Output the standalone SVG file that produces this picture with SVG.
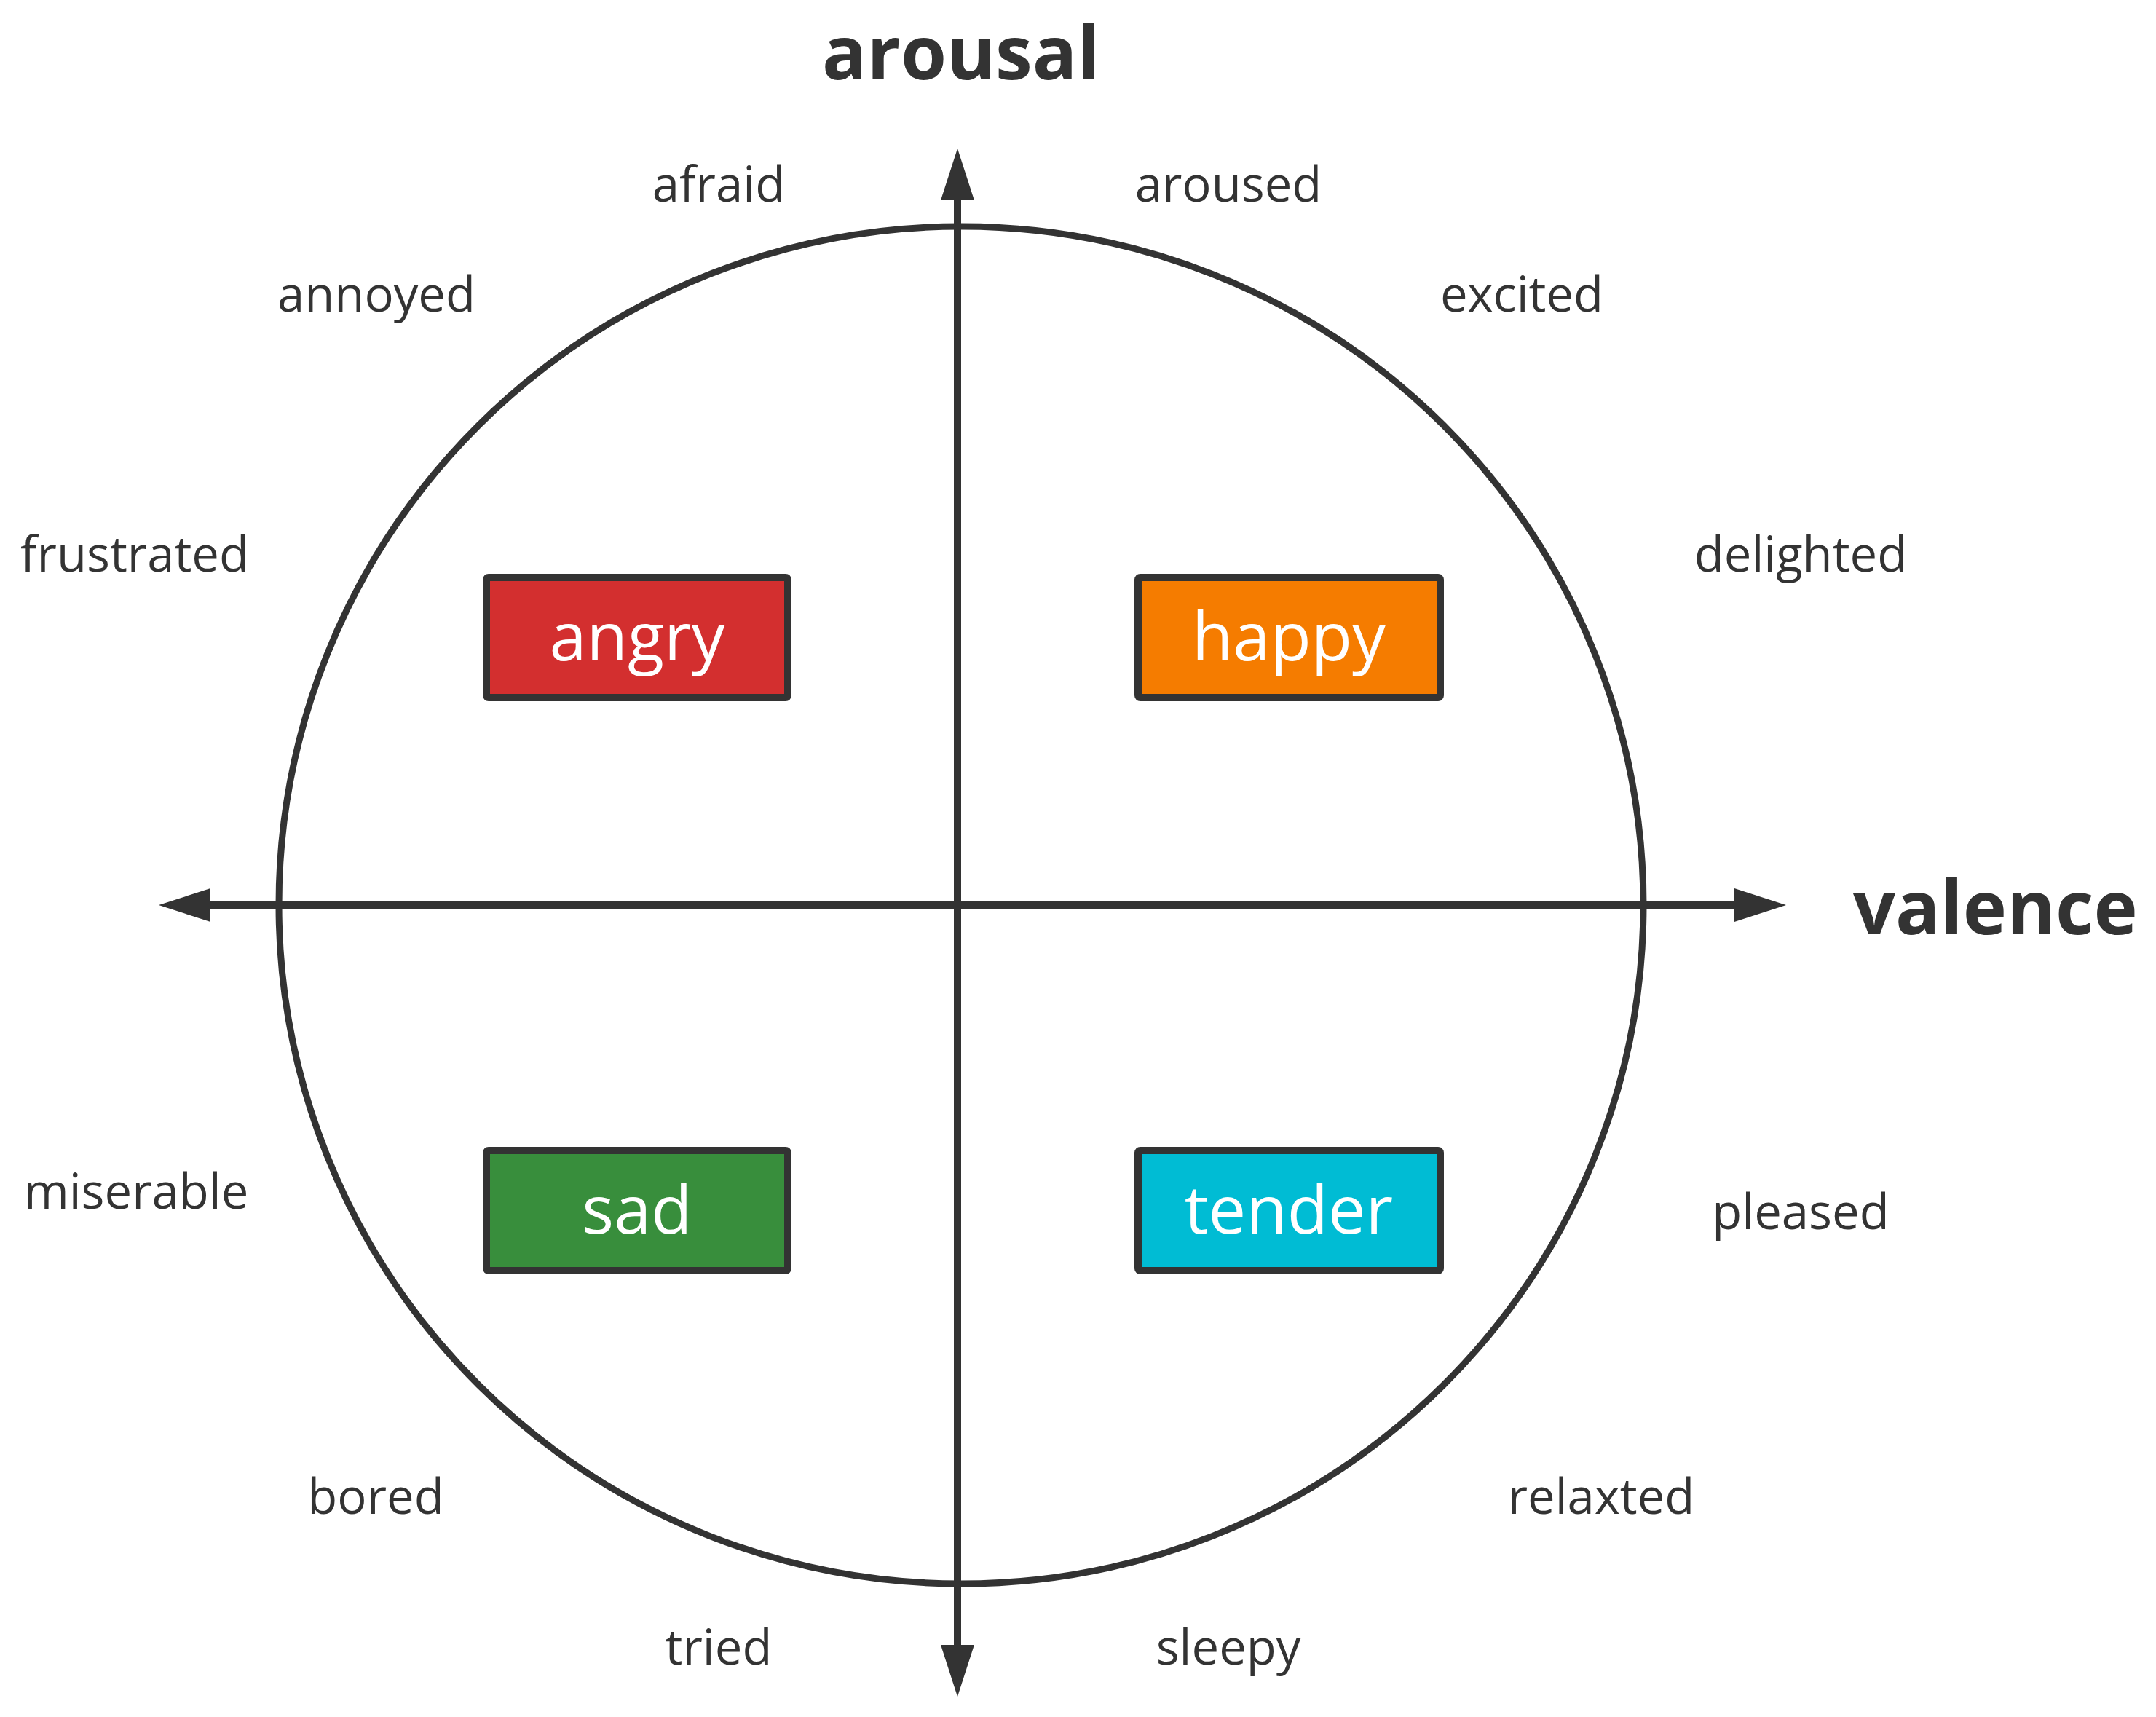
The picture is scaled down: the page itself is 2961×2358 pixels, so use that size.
<svg xmlns="http://www.w3.org/2000/svg" width="2961" height="2358" viewBox="0 0 2961 2358">
<defs>
<style>
.axis{stroke:#333333;stroke-width:10;fill:none}
.ring{stroke:#333333;stroke-width:9;fill:none}
.box{stroke:#333333;stroke-width:10}
.boxt{font-family:"Open Sans","Noto Sans",sans-serif;font-size:92px;fill:#ffffff;text-anchor:middle}
.lbl{font-family:"Open Sans","Noto Sans",sans-serif;font-size:67px;fill:#333333;text-anchor:middle}
.ttl{font-family:"Open Sans","Noto Sans",sans-serif;font-size:102px;font-weight:bold;fill:#333333}
</style>
<marker id="arrow" markerUnits="userSpaceOnUse" markerWidth="71" markerHeight="46" refX="9" refY="23" orient="auto-start-reverse" viewBox="0 0 71 46">
<path d="M0,0 L71,23 L0,46 z" fill="#333333"/>
</marker>
</defs>
<rect x="0" y="0" width="2961" height="2358" fill="#ffffff"/>
<ellipse id="circle" class="ring" cx="1320" cy="1243" rx="937" ry="932"/>
<g id="connectors">
<line id="valence-axis" class="axis" x1="280" y1="1243" x2="2391" y2="1243" marker-start="url(#arrow)" marker-end="url(#arrow)"/>
<line id="arousal-axis" class="axis" x1="1315" y1="2268" x2="1315" y2="266" marker-start="url(#arrow)" marker-end="url(#arrow)"/>
</g>
<g id="angry"><rect class="box" x="668" y="793" width="414" height="165" rx="3" fill="#D32F2F"/><text class="boxt" x="875" y="907">angry</text></g>
<g id="happy"><rect class="box" x="1563" y="793" width="415" height="165" rx="3" fill="#F57C00"/><text class="boxt" x="1770" y="907">happy</text></g>
<g id="sad"><rect class="box" x="668" y="1580" width="414" height="165" rx="3" fill="#388E3C"/><text class="boxt" x="875" y="1694">sad</text></g>
<g id="tender"><rect class="box" x="1563" y="1580" width="415" height="165" rx="3" fill="#00BCD4"/><text class="boxt" x="1770" y="1694">tender</text></g>
<g id="axis-labels">
<text class="ttl" x="1129" y="109">arousal</text>
<text class="ttl" x="2545" y="1283">valence</text>
</g>
<g id="emotion-labels">
<text class="lbl" x="987" y="277">afraid</text>
<text class="lbl" x="1687" y="277">aroused</text>
<text class="lbl" x="517" y="428">annoyed</text>
<text class="lbl" x="2090" y="428">excited</text>
<text class="lbl" x="185" y="785">frustrated</text>
<text class="lbl" x="2473" y="785">delighted</text>
<text class="lbl" x="187" y="1660">miserable</text>
<text class="lbl" x="2473" y="1688">pleased</text>
<text class="lbl" x="516" y="2079">bored</text>
<text class="lbl" x="2199" y="2079">relaxted</text>
<text class="lbl" x="987" y="2286">tried</text>
<text class="lbl" x="1687" y="2286">sleepy</text>
</g>
</svg>
